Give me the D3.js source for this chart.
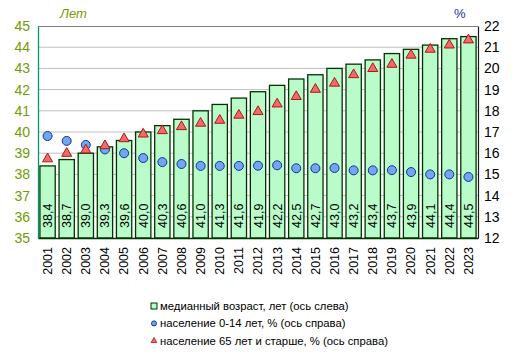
<!DOCTYPE html>
<html><head><meta charset="utf-8">
<script src="https://cdn.jsdelivr.net/npm/d3@7"></script>
<style>body{margin:0;background:#fff}svg{display:block;font-family:Arial,"Liberation Sans",sans-serif}</style>
</head><body><svg id="c" width="516" height="356"></svg>
<script>
const years = ["2001","2002","2003","2004","2005","2006","2007","2008","2009","2010","2011","2012","2013","2014","2015","2016","2017","2018","2019","2020","2021","2022","2023"];
const medianAge = [38.4,38.7,39.0,39.3,39.6,40.0,40.3,40.6,41.0,41.3,41.6,41.9,42.2,42.5,42.7,43.0,43.2,43.4,43.7,43.9,44.1,44.4,44.5];
const pop0to14 = [16.81,16.58,16.39,16.18,16.0,15.77,15.58,15.49,15.40,15.40,15.40,15.41,15.43,15.29,15.29,15.30,15.19,15.19,15.20,15.11,15.0,15.0,14.88];
const pop65plus = [15.73,15.99,16.15,16.35,16.68,16.9,17.06,17.25,17.41,17.55,17.79,17.96,18.32,18.67,19.01,19.3,19.7,19.99,20.19,20.62,20.9,21.1,21.34];
const leftTicks = [35,36,37,38,39,40,41,42,43,44,45];
const rightTicks = [12,13,14,15,16,17,18,19,20,21,22];
const legendLabels = ["медианный возраст, лет (ось слева)","население 0-14 лет, % (ось справа)","население 65 лет и старше, % (ось справа)"];

const svg = d3.select("#c");
const L=38, R=478, T=26, B=238;
const x = d3.scaleBand().domain(years).range([L,R]).paddingInner(0.2).paddingOuter(0.1);
const yL = d3.scaleLinear().domain([35,45]).range([B,T]);
const yR = d3.scaleLinear().domain([12,22]).range([B,T]);

// grid
svg.append("g").selectAll("line").data(leftTicks.slice(1,-1)).join("line")
  .attr("x1",L).attr("x2",R).attr("y1",d=>yL(d)).attr("y2",d=>yL(d))
  .attr("stroke","#bfbfbf").attr("stroke-width",1);
svg.append("line").attr("x1",L).attr("x2",R).attr("y1",T+0.5).attr("y2",T+0.5).attr("stroke","#808080");

// bars
svg.append("g").selectAll("rect").data(medianAge).join("rect")
  .attr("x",(d,i)=>x(years[i])).attr("width",x.bandwidth())
  .attr("y",d=>yL(d)).attr("height",d=>B-yL(d))
  .attr("fill","#b9fcc9").attr("stroke","#003300").attr("stroke-width",1.3);

// bar labels
svg.append("g").selectAll("text").data(medianAge).join("text")
  .attr("transform",(d,i)=>`translate(${x(years[i])+x.bandwidth()/2+4.5},${B-10}) rotate(-90)`)
  .attr("font-size",12.5).attr("fill","#000")
  .text(d=>d3.format(".1f")(d).replace(".",","));

// axes
const axL = svg.append("g").attr("transform",`translate(${L},0)`)
  .call(d3.axisLeft(yL).tickValues(leftTicks).tickSize(0).tickPadding(8));
axL.select(".domain").attr("stroke","#009966").attr("stroke-width",1.3);
axL.selectAll("text").attr("font-size",14).attr("fill","#6f9c00").attr("font-family","Arial,'Liberation Sans',sans-serif");

const axR = svg.append("g").attr("transform",`translate(${R},0)`)
  .call(d3.axisRight(yR).tickValues(rightTicks).tickSize(0).tickPadding(6));
axR.select(".domain").attr("stroke","#1a1a1a").attr("stroke-width",1.2);
axR.selectAll("text").attr("font-size",14).attr("fill","#000").attr("font-family","Arial,'Liberation Sans',sans-serif");

const axB = svg.append("g").attr("transform",`translate(0,${B})`)
  .call(d3.axisBottom(x).tickSize(0).tickPadding(0));
axB.select(".domain").attr("stroke","#003300").attr("stroke-width",1.3);
axB.selectAll("text").attr("font-size",12.5).attr("fill","#000")
  .attr("font-family","Arial,'Liberation Sans',sans-serif")
  .attr("transform","rotate(-90)").attr("text-anchor","end")
  .attr("x",-9).attr("y",0).attr("dy","0.35em");

// markers
svg.append("g").selectAll("circle").data(pop0to14).join("circle")
  .attr("cx",(d,i)=>x(years[i])+x.bandwidth()/2).attr("cy",d=>yR(d)).attr("r",4.5)
  .attr("fill","#6fa8ee").attr("stroke","#1a2f9a").attr("stroke-width",1);
const tri = d3.symbol().type(d3.symbolTriangle).size(44);
svg.append("g").selectAll("path").data(pop65plus).join("path")
  .attr("d",tri).attr("transform",(d,i)=>`translate(${x(years[i])+x.bandwidth()/2},${yR(d)})`)
  .attr("fill","#f06c6c").attr("stroke","#b01515").attr("stroke-width",1);

// axis titles
svg.append("text").attr("x",60).attr("y",18).attr("font-size",13).attr("font-style","italic").attr("fill","#7a9a00").text("Лет");
svg.append("text").attr("x",454).attr("y",18).attr("font-size",13).attr("fill","#1a2f9a").text("%");

// legend
const lg = svg.append("g").selectAll("g").data(legendLabels).join("g")
  .attr("transform",(d,i)=>`translate(154,${306+i*17.4})`);
lg.filter((d,i)=>i===0).append("rect").attr("x",-3).attr("y",-3).attr("width",6).attr("height",6)
  .attr("fill","#b9fcc9").attr("stroke","#003300").attr("stroke-width",1);
lg.filter((d,i)=>i===1).append("circle").attr("r",2.5).attr("fill","#6fa8ee").attr("stroke","#1a2f9a");
lg.filter((d,i)=>i===2).append("path").attr("d",d3.symbol().type(d3.symbolTriangle).size(14)).attr("fill","#f06c6c").attr("stroke","#b01515").attr("stroke-width",0.8);
lg.append("text").attr("x",6).attr("y",0).attr("dy","0.35em").attr("font-size",11.3).attr("fill","#000").text(d=>d);
</script></body></html>
